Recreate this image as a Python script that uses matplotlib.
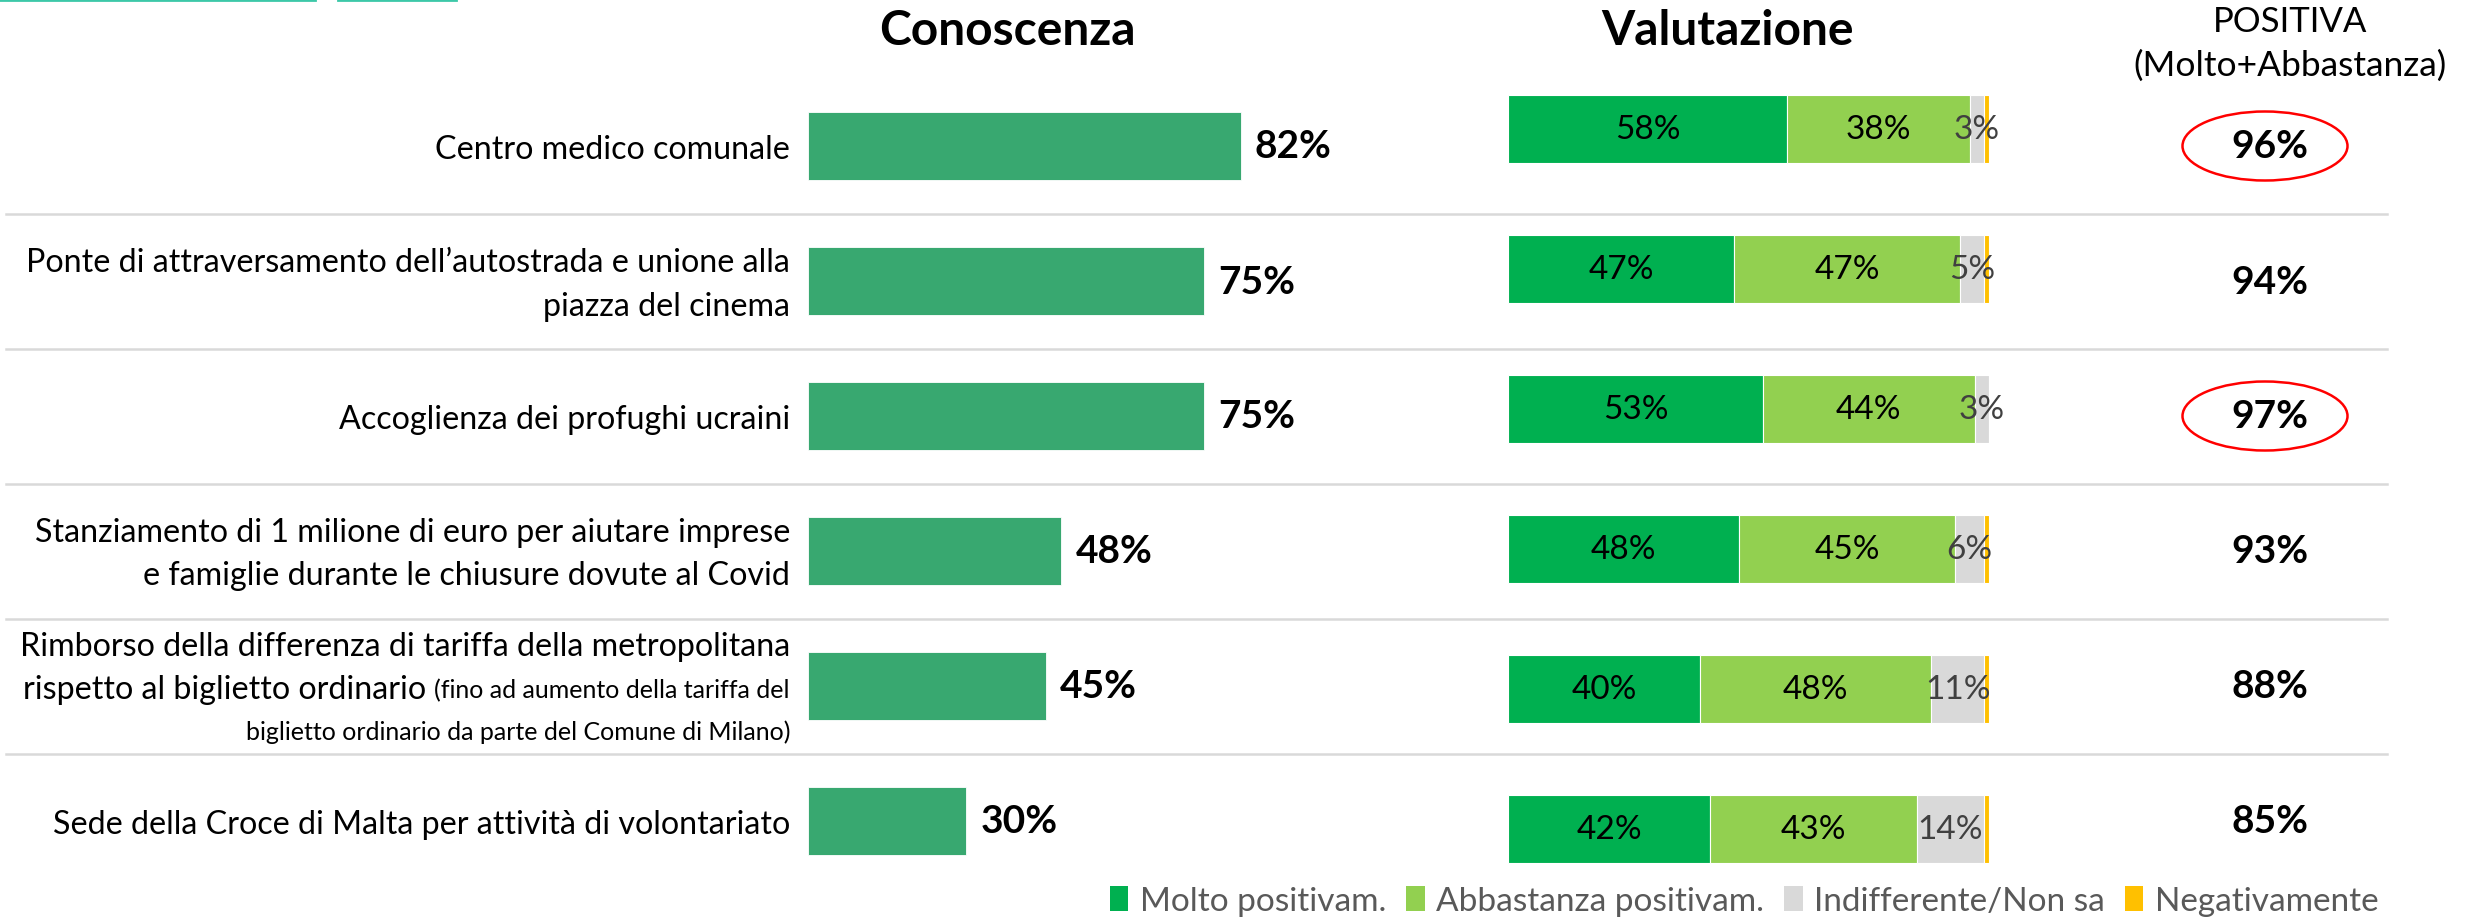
import matplotlib
matplotlib.use('Agg')
import matplotlib.pyplot as plt
import matplotlib.transforms as mtransforms
from matplotlib.patches import Ellipse, Patch
from matplotlib.lines import Line2D

plt.rcParams['font.family'] = ['Lato', 'DejaVu Sans']

# ---- data ----
items = [
  "Centro medico comunale",
  "Ponte di attraversamento dell\u2019autostrada e unione alla\npiazza del cinema",
  "Accoglienza dei profughi ucraini",
  "Stanziamento di 1 milione di euro per aiutare imprese\ne famiglie durante le chiusure dovute al Covid",
  "Rimborso della differenza di tariffa della metropolitana\nrispetto al biglietto ordinario",
  "Sede della Croce di Malta per attivit\u00e0 di volontariato",
]
notes = ["", "", "", "",
         "(fino ad aumento della tariffa del\nbiglietto ordinario da parte del Comune di Milano)", ""]

conoscenza = [82, 75, 75, 48, 45, 30]

molto = [58, 47, 53, 48, 40, 42]
abbastanza = [38, 47, 44, 45, 48, 43]
indifferente = [3, 5, 3, 6, 11, 14]
negativo = [1, 1, 0, 1, 1, 1]

positiva = [96, 94, 97, 93, 88, 85]
highlight = [True, False, True, False, False, False]

series_names = ["Molto positivam.", "Abbastanza positivam.", "Indifferente/Non sa", "Negativamente"]
series_colors = ['#00b050', '#92d050', '#d9d9d9', '#ffc000']
label_colors = ['black', 'black', '#404040', None]

# ---- figure ----
W, H = 2468, 920
dpi = 100
fig = plt.figure(figsize=(W / dpi, H / dpi), dpi=dpi)
fig.patch.set_facecolor('white')


def fx(x):
  return x / W


def fy(y):
  return 1 - y / H


n = len(items)
con_row = 135.0
val_row = 140.0

ax_con = fig.add_axes([fx(808), fy(147 + con_row * (n - 0.5)), 528 / W, con_row * n / H])
ax_val = fig.add_axes([fx(1508), fy(130 + val_row * (n - 0.5)), 481 / W, val_row * n / H])
for ax in (ax_con, ax_val):
  ax.set_xlim(0, 100)
  ax.set_ylim(n - 0.5, -0.5)
  ax.axis('off')

rows = list(range(n))

# conoscenza bars
ax_con.barh(rows, conoscenza, height=68 / con_row, color='#38a870', edgecolor='white', linewidth=0.6)
for i, v in enumerate(conoscenza):
  ax_con.annotate('%d%%' % v, (v, i), xytext=(14, 0), textcoords='offset pixels',
                  ha='left', va='center', fontsize=28, fontweight='bold', annotation_clip=False)

# valutazione stacked bars
left = [0] * n
series = [molto, abbastanza, indifferente, negativo]
for vals, col, lcol in zip(series, series_colors, label_colors):
  ax_val.barh(rows, vals, left=left, height=68 / val_row, color=col, edgecolor='white', linewidth=0.8)
  if lcol:
    for i, v in enumerate(vals):
      ax_val.text(left[i] + v / 2, i, '%d%%' % v, ha='center', va='center',
                  fontsize=24, color=lcol, clip_on=False)
  left = [a + b for a, b in zip(left, vals)]

# row labels
lab_tr = mtransforms.blended_transform_factory(fig.transFigure, ax_con.transData)
renderer = fig.canvas.get_renderer()
label_x = fx(790)
line_h = 43
label_size = 23.2
note_size = 18

for i, (txt, note) in enumerate(zip(items, notes)):
  lines = txt.split('\n')
  note_lines = note.split('\n') if note else []
  total = len(lines) + max(0, len(note_lines) - 1)
  offs = [((total - 1) / 2 - k) * line_h for k in range(total)]
  for k, line in enumerate(lines):
    x_right = label_x
    if note_lines and k == len(lines) - 1:
      tr = mtransforms.offset_copy(lab_tr, fig=fig, y=offs[k] - 2, units='dots')
      t = fig.text(label_x, i, note_lines[0], transform=tr, ha='right', va='center_baseline',
                   fontsize=note_size)
      w = t.get_window_extent(renderer).width
      x_right = label_x - (w + 8) / W
    tr = mtransforms.offset_copy(lab_tr, fig=fig, y=offs[k], units='dots')
    fig.text(x_right, i, line, transform=tr, ha='right', va='center_baseline', fontsize=label_size)
  for k, line in enumerate(note_lines[1:]):
    tr = mtransforms.offset_copy(lab_tr, fig=fig, y=offs[len(lines) + k], units='dots')
    fig.text(label_x, i, line, transform=tr, ha='right', va='center_baseline', fontsize=note_size)

# separators
for i in range(n - 1):
  fig.add_artist(Line2D([fx(6), fx(2387)], [i + 0.5, i + 0.5], transform=lab_tr,
                        color='#d9d9d9', linewidth=1.8))

# positive totals
for i, v in enumerate(positiva):
  fig.text(fx(2270), i, '%d%%' % v, transform=lab_tr, ha='center', va='center',
           fontsize=28, fontweight='bold')
  if highlight[i]:
    fig.add_artist(Ellipse((fx(2265), i), 165 / W, 69 / con_row, transform=lab_tr,
                           facecolor='none', edgecolor='#ff0000', linewidth=1.8))

# headers
fig.text(fx(1007), fy(31), 'Conoscenza', ha='center', va='center', fontsize=34.5, fontweight='bold')
fig.text(fx(1728), fy(31), 'Valutazione', ha='center', va='center', fontsize=34.5, fontweight='bold')
fig.text(fx(2290), fy(22), 'POSITIVA', ha='center', va='center', fontsize=25)
fig.text(fx(2290), fy(66), '(Molto+Abbastanza)', ha='center', va='center', fontsize=25.5)

# decorative lines at top-left
fig.add_artist(Line2D([fx(0), fx(315)], [fy(1), fy(1)], color='#3cc8a8', linewidth=2))
fig.add_artist(Line2D([fx(338), fx(456)], [fy(1), fy(1)], color='#3cc8a8', linewidth=2))

# legend
handles = [Patch(facecolor=c, edgecolor='none') for c in series_colors]
fig.legend(handles, series_names, loc='center right', bbox_to_anchor=(fx(2392), fy(902)),
           ncol=4, frameon=False, fontsize=24, handlelength=0.55, handleheight=0.8,
           handletextpad=0.35, columnspacing=0.6, labelcolor='#595959', borderaxespad=0)

fig.savefig('out.png', dpi=dpi)
